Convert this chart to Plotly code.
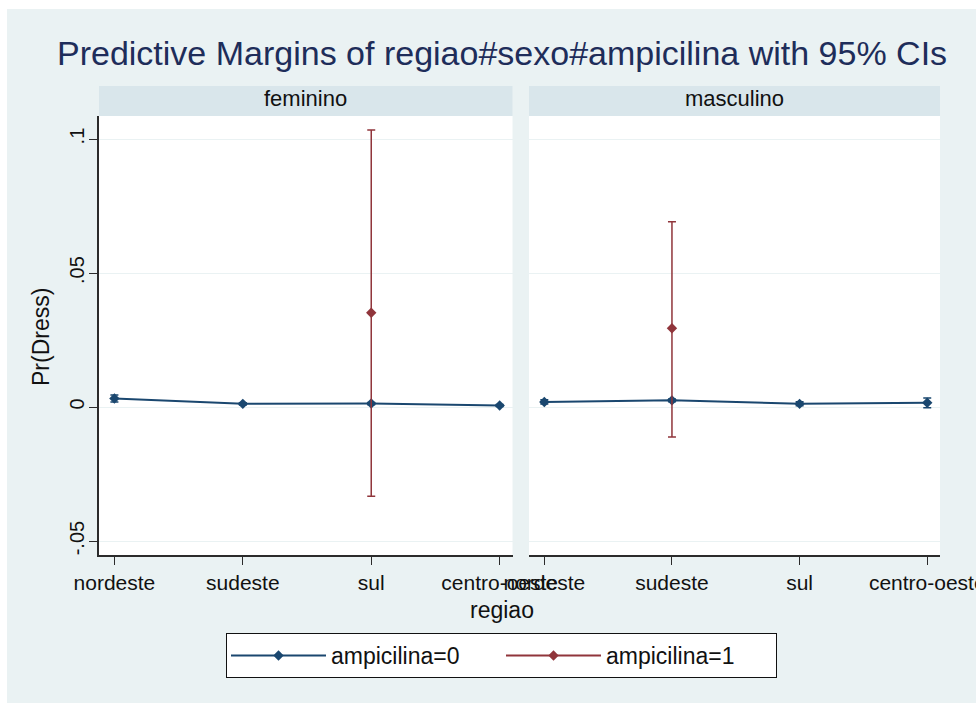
import plotly.graph_objects as go

# ---------------- data ----------------
regions = ["nordeste", "sudeste", "sul", "centro-oeste"]
panels = ["feminino", "masculino"]

# ampicilina = 0
fem_a0 = [0.0032, 0.0012, 0.0013, 0.0006]
fem_a0_lo = [0.0019, 0.0008, 0.0009, 0.0002]
fem_a0_hi = [0.0045, 0.0016, 0.0017, 0.0010]
mas_a0 = [0.0019, 0.0025, 0.0012, 0.0016]
mas_a0_lo = [0.0011, 0.0020, 0.0005, -0.0003]
mas_a0_hi = [0.0027, 0.0030, 0.0020, 0.0034]

# ampicilina = 1 (only estimable cells)
fem_a1 = [None, None, 0.0352, None]
fem_a1_lo = [None, None, -0.0333, None]
fem_a1_hi = [None, None, 0.1034, None]
mas_a1 = [None, 0.0294, None, None]
mas_a1_lo = [None, -0.0112, None, None]
mas_a1_hi = [None, 0.0691, None, None]

y_ticks = [-0.05, 0, 0.05, 0.1]
y_ticklabels = ["-.05", "0", ".05", ".1"]

NAVY = "#1a476f"
MAROON = "#90353b"
BG = "#eaf2f3"
STRIP = "#d9e6eb"
FONT = "Liberation Sans, Arial, sans-serif"

xs = list(range(len(regions)))


def err(vals, lo, hi):
    plus = [None if v is None else h - v for v, h in zip(vals, hi)]
    minus = [None if v is None else v - l for v, l in zip(vals, lo)]
    return plus, minus


fig = go.Figure()
series = [
    ("ampicilina=0", NAVY, [(fem_a0, fem_a0_lo, fem_a0_hi), (mas_a0, mas_a0_lo, mas_a0_hi)]),
    ("ampicilina=1", MAROON, [(fem_a1, fem_a1_lo, fem_a1_hi), (mas_a1, mas_a1_lo, mas_a1_hi)]),
]
for name, color, data in series:
    for k, (v, lo, hi) in enumerate(data):
        plus, minus = err(v, lo, hi)
        fig.add_trace(go.Scatter(
            x=xs, y=v, name=name, legendgroup=name, showlegend=(k == 0),
            mode="lines+markers",
            line=dict(color=color, width=2),
            marker=dict(symbol="diamond", size=8, color=color),
            error_y=dict(type="data", array=plus, arrayminus=minus, symmetric=False,
                         color=color, thickness=1.5, width=4),
            xaxis="x" if k == 0 else "x2", yaxis="y" if k == 0 else "y2",
        ))

W, H = 976, 703
ml, mr, mt, mb = 99, 36, 116, 148
pw = W - ml - mr
ph = H - mt - mb


def px_x(p):
    return (p - ml) / pw


def px_y(p):
    return (H - mb - p) / ph


xaxis_common = dict(
    tickmode="array", tickvals=xs, ticktext=regions, range=[-0.12, 3.1],
    showgrid=False, zeroline=False, showline=True, linecolor="#2b2b2b", linewidth=1.5,
    ticks="outside", ticklen=8, tickcolor="#2b2b2b", tickwidth=1, automargin=False,
    ticklabeloverflow="allow",
    tickfont=dict(size=21, color="#111111", family=FONT),
)
yaxis_common = dict(
    range=[-0.0552, 0.1086], tickmode="array", tickvals=y_ticks, ticktext=y_ticklabels,
    showgrid=True, gridcolor=BG, gridwidth=1, zeroline=False, automargin=False,
)

fig.update_layout(
    width=W, height=H,
    margin=dict(l=ml, r=mr, t=mt, b=mb, autoexpand=False),
    paper_bgcolor=BG, plot_bgcolor="white",
    font=dict(family=FONT, color="#111111"),
    xaxis=dict(domain=[0, px_x(512.5)], anchor="y", **xaxis_common),
    xaxis2=dict(domain=[px_x(529), 1], anchor="y2", **xaxis_common),
    yaxis=dict(anchor="x", showline=True, linecolor="#2b2b2b", linewidth=1.5,
               ticks="outside", ticklen=8, tickcolor="#2b2b2b", tickangle=-90,
               ticklabelstandoff=-3,
               tickfont=dict(size=20, color="#111111", family=FONT), **yaxis_common),
    yaxis2=dict(anchor="x2", matches="y", showticklabels=False, showline=False,
                ticks="", **yaxis_common),
    showlegend=True,
    legend=dict(orientation="h", x=px_x(501.5), xanchor="center", y=px_y(633), yanchor="top",
                bgcolor="white", bordercolor="#111111", borderwidth=1,
                font=dict(size=23, color="#111111", family=FONT),
                entrywidth=165, itemwidth=95),
)

shapes = [
    # white border edges of the image
    dict(type="rect", xref="paper", yref="paper", x0=px_x(0), x1=px_x(7), y0=px_y(703), y1=px_y(0),
         fillcolor="white", line=dict(width=0), layer="above"),
    dict(type="rect", xref="paper", yref="paper", x0=px_x(0), x1=px_x(976), y0=px_y(9), y1=px_y(0),
         fillcolor="white", line=dict(width=0), layer="above"),
]
annotations = []
for ax, label in zip(["x", "x2"], panels):
    shapes.append(dict(type="rect", xref=f"{ax} domain", yref="paper", x0=0, x1=1,
                       y0=1, y1=px_y(86), fillcolor=STRIP, line=dict(width=0), layer="below"))
    annotations.append(dict(text=label, xref=f"{ax} domain", yref="paper", x=0.5, y=px_y(99),
                            showarrow=False, xanchor="center", yanchor="middle",
                            font=dict(size=22, color="#111111", family=FONT)))

annotations += [
    dict(text="Predictive Margins of regiao#sexo#ampicilina with 95% CIs", xref="paper", yref="paper",
         x=px_x(502), y=px_y(53), showarrow=False, xanchor="center", yanchor="middle",
         font=dict(size=34, color="#1e2d5a", family=FONT)),
    dict(text="regiao", xref="paper", yref="paper", x=px_x(502), y=px_y(610), showarrow=False,
         xanchor="center", yanchor="middle", font=dict(size=23, color="#111111", family=FONT)),
    dict(text="Pr(Dress)", xref="paper", yref="paper", x=px_x(41), y=px_y(337), showarrow=False,
         textangle=-90, xanchor="center", yanchor="middle",
         font=dict(size=23, color="#111111", family=FONT)),
]
fig.update_layout(shapes=shapes, annotations=annotations)

fig.write_html("out.html")
